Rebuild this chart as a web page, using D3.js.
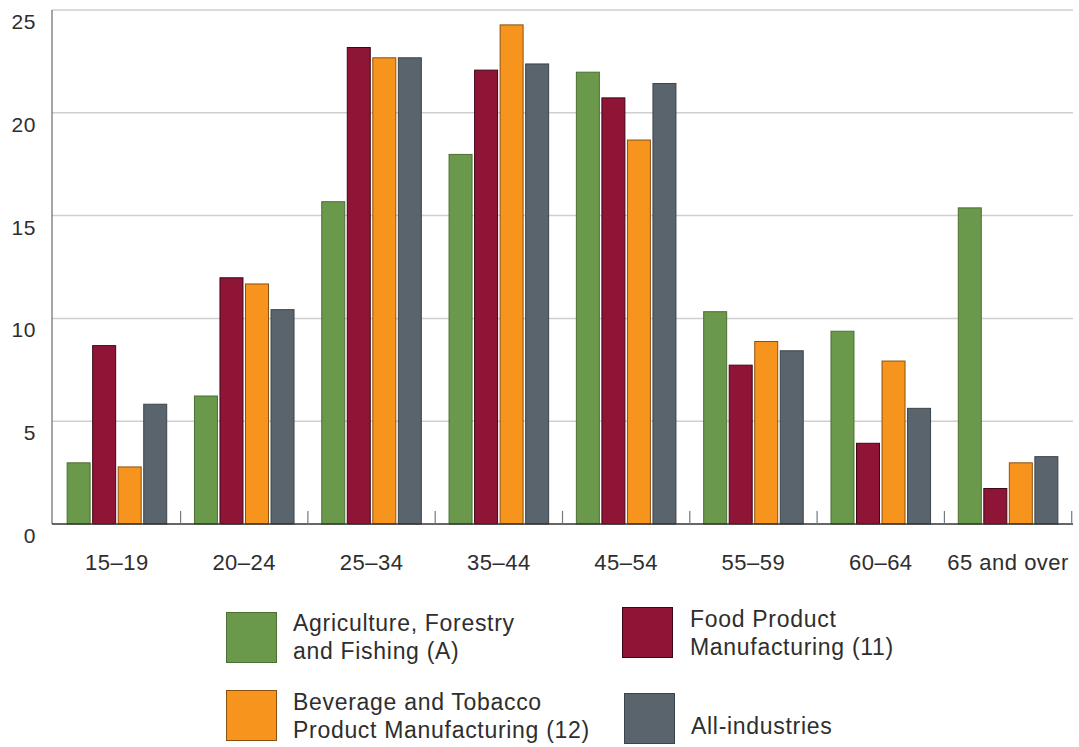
<!DOCTYPE html>
<html>
<head>
<meta charset="utf-8">
<script src="https://cdn.jsdelivr.net/npm/d3@7"></script>
<style>
  html, body { margin: 0; padding: 0; background: #fff; }
  svg { display: block; font-family: "Liberation Sans", Arial, sans-serif; }
</style>
</head>
<body>
<svg id="chart" width="1079" height="747"></svg>
<script>
// Age groups along the x axis
const ageGroups = ["15–19", "20–24", "25–34", "35–44", "45–54", "55–59", "60–64", "65 and over"];

// Series names (legend order)
const seriesNames = [
  "Agriculture, Forestry and Fishing (A)",
  "Food Product Manufacturing (11)",
  "Beverage and Tobacco Product Manufacturing (12)",
  "All-industries"
];

// Percentage of workers in each age group, per series
const agriculture = [3.0, 6.25, 15.7, 18.0, 22.0, 10.35, 9.4, 15.4];
const foodProduct = [8.7, 12.0, 23.2, 22.1, 20.75, 7.75, 3.95, 1.75];
const beverage    = [2.8, 11.7, 22.7, 24.3, 18.7, 8.9, 7.95, 3.0];
const allIndustries = [5.85, 10.45, 22.7, 22.4, 21.45, 8.45, 5.65, 3.3];

const yTicks = [0, 5, 10, 15, 20, 25];

const seriesColors = ["#6b994b", "#8e1536", "#f7941e", "#5a646d"];
const seriesStrokes = ["#4b6e33", "#3e0716", "#8a5210", "#3c444b"];

const seriesValues = [agriculture, foodProduct, beverage, allIndustries];

const svg = d3.select("#chart");
const plotLeft = 52, plotRight = 1073, plotTop = 10, plotBottom = 524;
const textColor = "#2e2e2e";

const y = d3.scaleLinear().domain([0, 25]).range([plotBottom, plotTop]);

const x0 = d3.scaleBand()
  .domain(ageGroups)
  .range([plotLeft, plotRight])
  .paddingInner(0.21)
  .paddingOuter(0.115);

const x1 = d3.scaleBand()
  .domain(d3.range(seriesNames.length))
  .range([0, x0.bandwidth()])
  .paddingInner(0.06);

// Horizontal gridlines
svg.append("g")
  .selectAll("line")
  .data(yTicks.filter(d => d > 0))
  .join("line")
  .attr("x1", plotLeft)
  .attr("x2", plotRight)
  .attr("y1", d => y(d))
  .attr("y2", d => y(d))
  .attr("stroke", "#cfcfcf")
  .attr("stroke-width", 1.5);

// Y axis tick labels (sit just below their gridline)
const yAxis = d3.axisLeft(y).tickValues(yTicks).tickSize(0).tickPadding(16);
const gy = svg.append("g")
  .attr("transform", `translate(${plotLeft},0)`)
  .call(yAxis);
gy.select(".domain").remove();
gy.selectAll("text")
  .attr("dy", "0.88em")
  .attr("font-size", 21)
  .attr("letter-spacing", 0.6)
  .attr("fill", textColor)
  .attr("font-family", "Liberation Sans, Arial, sans-serif");

// Bars
const groups = svg.append("g")
  .selectAll("g")
  .data(ageGroups)
  .join("g")
  .attr("transform", d => `translate(${x0(d)},0)`);

groups.selectAll("rect")
  .data((d, i) => seriesValues.map((vals, s) => ({ s, v: vals[i] })))
  .join("rect")
  .attr("x", d => x1(d.s) + 0.5)
  .attr("y", d => y(d.v) + 0.5)
  .attr("width", x1.bandwidth() - 1)
  .attr("height", d => y(0) - y(d.v) - 0.5)
  .attr("fill", d => seriesColors[d.s])
  .attr("stroke", d => seriesStrokes[d.s])
  .attr("stroke-width", 1);

// Y axis line
svg.append("line")
  .attr("x1", plotLeft).attr("x2", plotLeft)
  .attr("y1", plotTop).attr("y2", plotBottom)
  .attr("stroke", "#6a6a6a")
  .attr("stroke-width", 1.2);

// X axis: baseline, group separators and category labels
const xAxis = d3.axisBottom(x0).tickSize(0).tickPadding(30);
const gx = svg.append("g")
  .attr("transform", `translate(0,${plotBottom})`)
  .call(xAxis);
gx.select(".domain").remove();
gx.selectAll("text")
  .attr("font-size", 22)
  .attr("letter-spacing", 0.5)
  .attr("fill", textColor)
  .attr("font-family", "Liberation Sans, Arial, sans-serif");

svg.append("line")
  .attr("x1", plotLeft).attr("x2", plotRight)
  .attr("y1", plotBottom).attr("y2", plotBottom)
  .attr("stroke", "#333")
  .attr("stroke-width", 1.5);

svg.append("g")
  .selectAll("line")
  .data(ageGroups)
  .join("line")
  .attr("x1", d => x0(d) + x0.bandwidth() + x0.step() * x0.paddingInner() / 2)
  .attr("x2", d => x0(d) + x0.bandwidth() + x0.step() * x0.paddingInner() / 2)
  .attr("y1", plotBottom)
  .attr("y2", plotBottom - 13)
  .attr("stroke", "#777")
  .attr("stroke-width", 1.2);

// Legend
const legendItems = [
  { s: 0, x: 226, y: 612, tx: 293, lines: ["Agriculture, Forestry", "and Fishing (A)"], ty: [631, 659] },
  { s: 1, x: 622, y: 607, tx: 690, lines: ["Food Product", "Manufacturing (11)"], ty: [627, 655] },
  { s: 2, x: 226, y: 690, tx: 293, lines: ["Beverage and Tobacco", "Product Manufacturing (12)"], ty: [710, 738] },
  { s: 3, x: 624, y: 693, tx: 691, lines: ["All-industries"], ty: [734] }
];

const legend = svg.append("g")
  .selectAll("g")
  .data(legendItems)
  .join("g");

legend.append("rect")
  .attr("x", d => d.x + 0.5)
  .attr("y", d => d.y + 0.5)
  .attr("width", 50)
  .attr("height", 50)
  .attr("fill", d => seriesColors[d.s])
  .attr("stroke", d => seriesStrokes[d.s])
  .attr("stroke-width", 1);

legend.each(function (d) {
  const g = d3.select(this);
  d.lines.forEach((line, i) => {
    g.append("text")
      .attr("x", d.tx)
      .attr("y", d.ty[i])
      .attr("font-size", 23)
      .attr("letter-spacing", 0.7)
      .attr("fill", textColor)
      .text(line);
  });
});
</script>
</body>
</html>
